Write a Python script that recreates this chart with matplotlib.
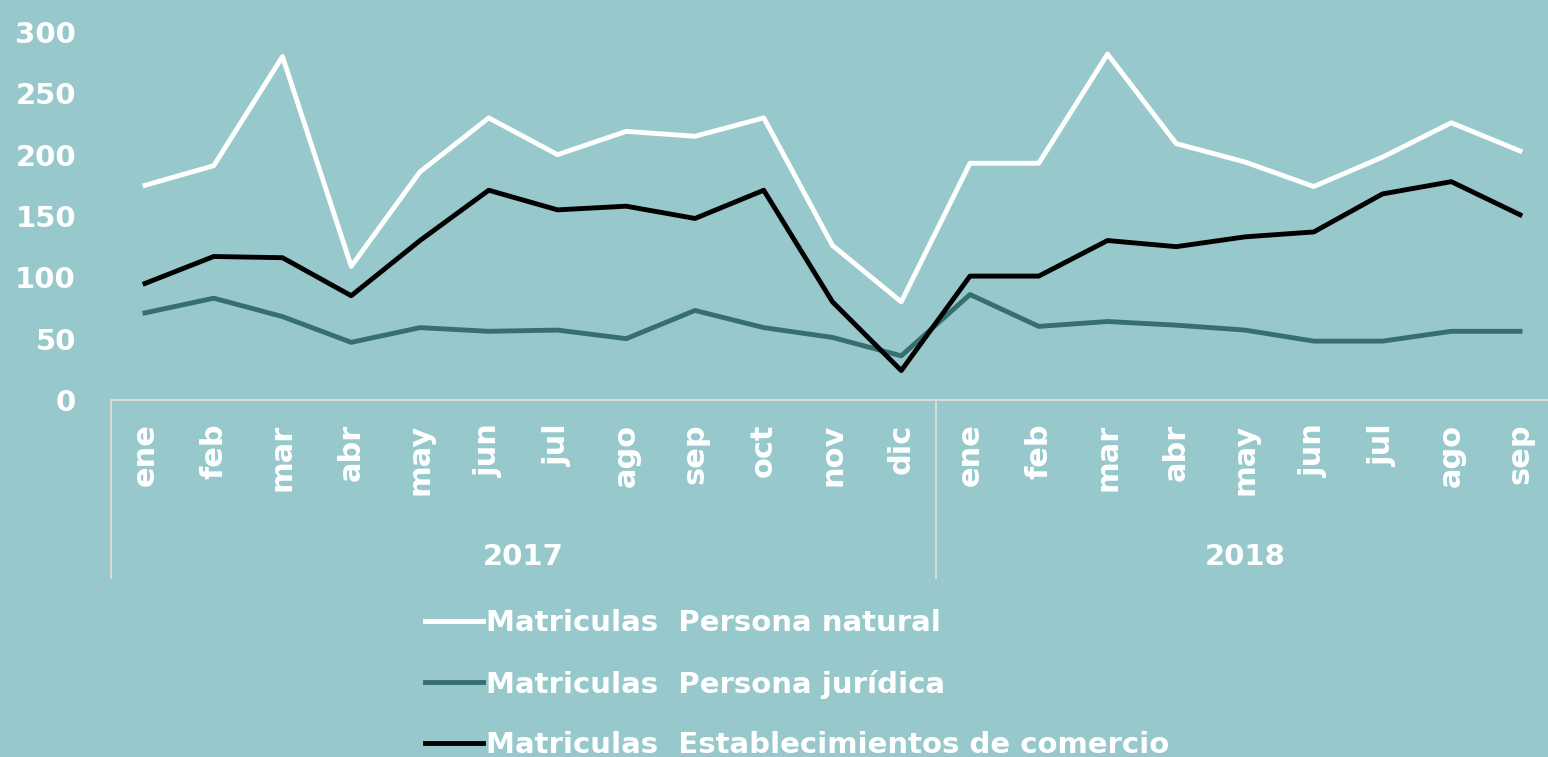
import matplotlib.pyplot as plt
import matplotlib.transforms as mtransforms
import numpy as np

meses = ["ene", "feb", "mar", "abr", "may", "jun", "jul", "ago", "sep", "oct", "nov", "dic",
         "ene", "feb", "mar", "abr", "may", "jun", "jul", "ago", "sep"]
anios = ["2017", "2018"]
meses_por_anio = [12, 9]

persona_natural = [175, 191, 280, 109, 186, 230, 200, 219, 215, 230, 126, 80,
                   193, 193, 282, 209, 194, 174, 198, 226, 203]
persona_juridica = [71, 83, 68, 47, 59, 56, 57, 50, 73, 59, 51, 36,
                    86, 60, 64, 61, 57, 48, 48, 56, 56]
establecimientos = [95, 117, 116, 85, 130, 171, 155, 158, 148, 171, 80, 24,
                    101, 101, 130, 125, 133, 137, 168, 178, 151]

bg = "#97c8cb"
grid_c = "#d9d9d9"

plt.rcParams['font.family'] = ['DejaVu Sans']
plt.rcParams['font.weight'] = 'bold'

W, H = 1548, 757
fig = plt.figure(figsize=(W / 100, H / 100), dpi=100, facecolor=bg)
# axes placed in pixels: x from 110.6 to 1554, y from 32 to 400
left, right, top, bottom = 110.6, 1554.4, 32, 400
ax = fig.add_axes([left / W, 1 - bottom / H, (right - left) / W, (bottom - top) / H])
ax.set_facecolor(bg)

x = np.arange(len(meses))
ax.plot(x, persona_natural, color="white", lw=3.5, label="Matriculas  Persona natural")
ax.plot(x, persona_juridica, color="#356f70", lw=3.5, label="Matriculas  Persona jurídica")
ax.plot(x, establecimientos, color="black", lw=3.5, label="Matriculas  Establecimientos de comercio")

ax.set_xlim(-0.5, len(meses) - 0.5)
ax.set_ylim(0, 300)
ax.set_yticks(range(0, 301, 50))
ax.tick_params(axis='y', length=0, pad=25, labelsize=21, labelcolor="white")
ax.set_xticks(x)
ax.set_xticklabels(meses, rotation=90)
ax.tick_params(axis='x', length=0, pad=17, labelsize=22, labelcolor="white")

for s in ["top", "right", "left"]:
    ax.spines[s].set_visible(False)
ax.spines["bottom"].set_color(grid_c)
ax.spines["bottom"].set_linewidth(1.5)

# year groups under the month labels
trans = mtransforms.blended_transform_factory(ax.transData, ax.transAxes)
y_low = (bottom - 578) / (bottom - top)
y_txt = (bottom - 557) / (bottom - top)
start = -0.5
ax.plot([start, start], [0, y_low], color=grid_c, lw=1.5, transform=trans, clip_on=False)
for anio, n in zip(anios, meses_por_anio):
    end = start + n
    ax.plot([end, end], [0, y_low], color=grid_c, lw=1.5, transform=trans, clip_on=False)
    ax.text((start + end) / 2, y_txt, anio, transform=trans, ha="center", va="center",
            fontsize=21, color="white", fontweight="bold")
    start = end

leg = fig.legend(loc="upper left", bbox_to_anchor=(425 / W, 1 - 609 / H), frameon=False,
                 fontsize=21, handlelength=2.0, handletextpad=0.1, labelspacing=1.12,
                 borderpad=0, borderaxespad=0)
for t in leg.get_texts():
    t.set_color("white")

fig.savefig("out.png", dpi=100, facecolor=bg)
